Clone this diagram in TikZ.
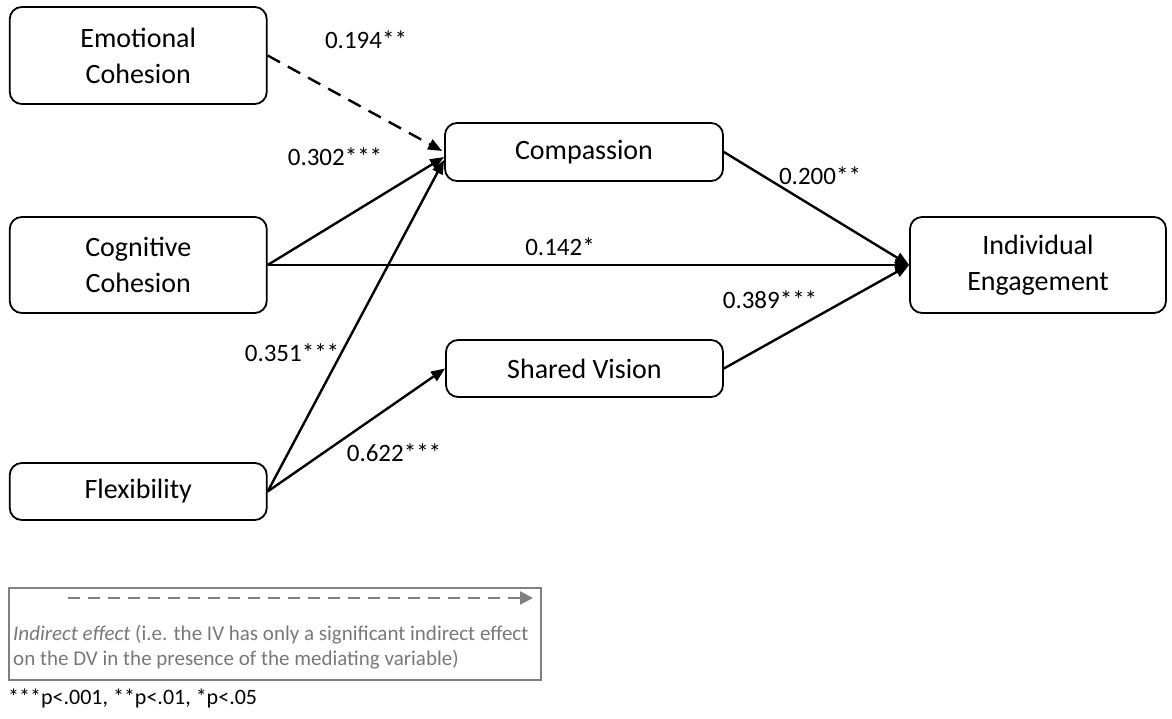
\documentclass[tikz,border=0pt]{standalone}
\usepackage{fontspec}
\setmainfont{Carlito}
\usetikzlibrary{arrows.meta,calc}
\definecolor{lgray}{RGB}{128,128,128}
\definecolor{tgray}{RGB}{120,120,120}
\begin{document}
\begin{tikzpicture}[x=1pt,y=-1pt,
  box/.style={draw, line width=1.8pt, rounded corners=12pt, align=center,
    font=\fontsize{28}{36}\selectfont, inner sep=0pt},
  conn/.style={line width=2.4pt, -{Triangle[length=14pt,width=11pt]}},
  dconn/.style={conn, dash pattern=on 14pt off 9pt},
  lab/.style={font=\fontsize{25}{30}\selectfont, inner sep=0pt},
]
\useasboundingbox (0,0) rectangle (1172,719);

% nodes
\node[box, minimum width=257pt, minimum height=97pt] (emo) at (138.25,55.5) {Emotional\\Cohesion};
\node[box, minimum width=257pt, minimum height=96pt] (cog) at (138.25,265) {Cognitive\\Cohesion};
\node[box, minimum width=257pt, minimum height=57pt] (flex) at (138.25,491.5) {Flexibility};
\node[box, minimum width=278pt, minimum height=58pt] (comp) at (584,152) {Compassion};
\node[box, minimum width=277pt, minimum height=57pt] (sv) at (584.5,368.5) {Shared Vision};
\node[box, minimum width=256pt, minimum height=96pt] (ie) at (1038,265) {Individual\\Engagement};

% connector end points
\coordinate (c1) at ($(comp.west)+(-2,-1)$);
\coordinate (c2) at ($(comp.west)+(0,5)$);
\coordinate (c3) at ($(comp.west)+(0,8)$);

% connectors
\draw[dconn] (emo.east) -- (c1);
\draw[conn] (cog.east) -- (c2);
\draw[conn] (flex.east) -- (c3);
\draw[conn] (flex.east) -- (sv.west);
\draw[conn] (cog.east) -- (ie.west);
\draw[conn] (comp.east) -- (ie.west);
\draw[conn] (sv.east) -- (ie.west);

% labels
\node[lab] (l1) at (366,40) {0.194**};
\node[lab] (l2) at (335,157) {0.302***};
\node[lab] (l3) at (560,247) {0.142*};
\node[lab] (l4) at (820,176) {0.200**};
\node[lab] (l5) at (770,300) {0.389***};
\node[lab] (l6) at (292,353) {0.351***};
\node[lab] (l7) at (394,453) {0.622***};

% legend
\node[draw=lgray, line width=1.8pt, minimum width=532pt, minimum height=92pt, inner sep=0pt] (legend) at (275,634) {};
\coordinate (ls) at (68,598);
\coordinate (le) at (533,598);
\draw[lgray, line width=2.4pt, dash pattern=on 12pt off 8pt, -{Triangle[length=13pt,width=13pt]}] (ls) -- (le);
\node[anchor=west, align=left, text=tgray, inner sep=0pt,
  font=\fontsize{21}{25}\selectfont] (ltext) at (13,647)
  {\textit{Indirect effect} (i.e. the IV has only a significant indirect effect\\on the DV in the presence of the mediating variable)};
\node[anchor=west, inner sep=0pt, font=\fontsize{22}{26}\selectfont] (foot) at (8,698) {***p<.001, **p<.01, *p<.05};
\end{tikzpicture}
\end{document}
